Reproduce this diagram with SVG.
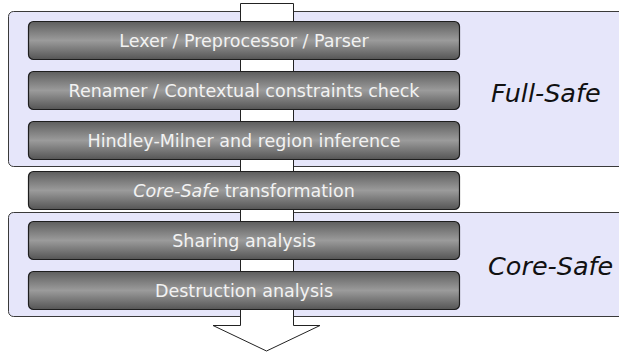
<svg xmlns="http://www.w3.org/2000/svg" width="619" height="354" viewBox="0 0 619 354">
  <defs>
    <linearGradient id="boxShade" x1="0" y1="0" x2="0" y2="1">
      <stop offset="0" stop-color="#5e5e5e"/>
      <stop offset="0.5" stop-color="#9b9b9b"/>
      <stop offset="1" stop-color="#555555"/>
    </linearGradient>
    <style>
      .group { fill: #e6e6fa; stroke: #3a3a3a; stroke-width: 1; }
      .flow { fill: #ffffff; stroke: #222222; stroke-width: 1; }
      .stage { fill: url(#boxShade); stroke: #1e1e1e; stroke-width: 1.2; }
      .stage-label { font-family: "DejaVu Sans", Verdana, sans-serif; font-size: 17.5px; fill: #f2f2f2; text-anchor: middle; }
      .group-label { font-family: "DejaVu Sans", Verdana, sans-serif; font-size: 25.5px; font-style: italic; fill: #111111; }
    </style>
  </defs>

  <!-- language level groups -->
  <g id="full-safe">
    <rect class="group" x="8.5" y="11.5" width="620" height="155" rx="5"/>
    <text class="group-label" x="491" y="102">Full-Safe</text>
  </g>
  <g id="core-safe">
    <rect class="group" x="8.5" y="212.5" width="620" height="104" rx="5"/>
    <text class="group-label" x="488" y="275">Core-Safe</text>
  </g>

  <!-- big flow arrow through all stages -->
  <g id="connectors">
    <path class="flow" d="M240.5,3.5 H293.5 V325.5 H320 L266.5,351 L213,325.5 H240.5 Z"/>
  </g>

  <!-- compiler stages -->
  <g id="lexer">
    <rect class="stage" x="28.5" y="21.5" width="431" height="38" rx="5"/>
    <text class="stage-label" x="244" y="47">Lexer / Preprocessor / Parser</text>
  </g>
  <g id="renamer">
    <rect class="stage" x="28.5" y="71.5" width="431" height="38" rx="5"/>
    <text class="stage-label" x="244" y="97">Renamer / Contextual constraints check</text>
  </g>
  <g id="inference">
    <rect class="stage" x="28.5" y="121.5" width="431" height="38" rx="5"/>
    <text class="stage-label" x="244" y="147">Hindley-Milner and region inference</text>
  </g>
  <g id="transformation">
    <rect class="stage" x="28.5" y="171.5" width="431" height="38" rx="5"/>
    <text class="stage-label" x="244" y="197"><tspan font-style="italic">Core-Safe</tspan> transformation</text>
  </g>
  <g id="sharing">
    <rect class="stage" x="28.5" y="221.5" width="431" height="38" rx="5"/>
    <text class="stage-label" x="244" y="247">Sharing analysis</text>
  </g>
  <g id="destruction">
    <rect class="stage" x="28.5" y="271.5" width="431" height="38" rx="5"/>
    <text class="stage-label" x="244" y="297">Destruction analysis</text>
  </g>
</svg>
